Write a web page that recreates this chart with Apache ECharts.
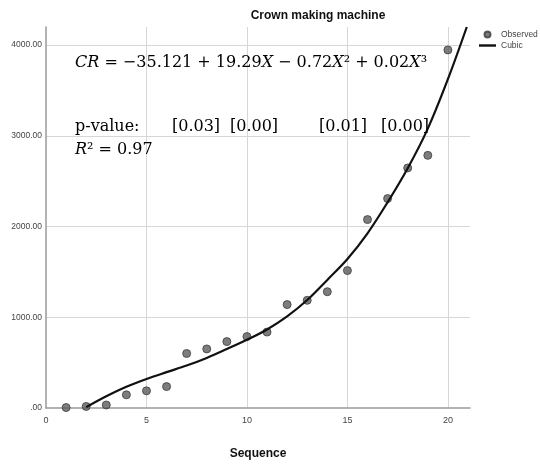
<!DOCTYPE html>
<html>
<head>
<meta charset="utf-8">
<script src="https://cdn.jsdelivr.net/npm/echarts@6/dist/echarts.min.js"></script>
<style>html,body{margin:0;padding:0;background:#fff;}#c{width:540px;height:465px;}</style>
</head>
<body>
<div id="c"></div>
<script>
// Observed points (Sequence, value)
const obsX = [1,2,3,4,5,6,7,8,9,10,11,12,13,14,15,16,17,18,19,20];
const obsY = [5,17,33,145,189,236,601,651,732,787,837,1140,1187,1282,1515,2077,2309,2646,2785,3947];
// Cubic fit curve
const curveX = [2,3,4,5,6,7,8,9,10,11,12,13,14,15,16,17,18,19,20,20.94];
const curveY = [10,130,235,320,395,468,552,650,752,866,1010,1190,1412,1642,1926,2268,2643,3080,3625,4200];
const xTicks = [0,5,10,15,20];
const yTicks = [0,1000,2000,3000,4000];

const titleText = 'Crown making machine';
const xName = 'Sequence';
const eqLine = '{i|CR} = −35.121 + 19.29{i|X} − 0.72{i|X}² + 0.02{i|X}³';
const pLabel = 'p-value:';
const pValues = ['[0.03]','[0.00]','[0.01]','[0.00]'];
const r2Line = '{i|R}² = 0.97';

const chart = echarts.init(document.getElementById('c'), null, {renderer:'canvas'});
const serif = 'DejaVu Serif';
const rich = {i:{fontStyle:'italic', fontSize:16, fontFamily:serif, fill:'#000'}};
const pPos = [172, 230, 319, 381];
const txt = (text, x, y) => ({type:'text', left:x, top:y-8, z:100,
  style:{text:text, fontSize:16, fontFamily:serif, fill:'#000', rich:rich}});

chart.setOption({
  backgroundColor:'#fff',
  animation:false,
  title:{text:titleText, left:313, top:5, textAlign:'center',
    textStyle:{fontSize:12, fontWeight:'bold', fontFamily:'Liberation Sans', color:'#111'}},
  legend:{orient:'vertical', left:479, top:30, itemWidth:17, itemHeight:6, itemGap:2, padding:0,
    textStyle:{fontSize:8.5, fontFamily:'Liberation Sans Narrow, Liberation Sans', color:'#444', lineHeight:7},
    data:[{name:'Observed', icon:'circle'},
          {name:'Cubic', icon:'path://M0,0 L17,0 L17,2.4 L0,2.4 Z'}]},
  grid:{left:46, right:70, top:27, bottom:52.7, containLabel:false},
  xAxis:{type:'value', min:0, max:21.1, interval:5,
    name:xName, nameLocation:'middle', nameGap:40,
    nameTextStyle:{fontSize:12, fontWeight:'bold', fontFamily:'Liberation Sans', color:'#111'},
    axisLine:{show:true, onZero:false, lineStyle:{color:'#9a9a9a', width:1.5}},
    axisTick:{show:false},
    axisLabel:{fontSize:9, color:'#444', margin:8, fontFamily:'Liberation Sans Narrow, Liberation Sans', showMaxLabel:false,
      formatter:v => xTicks.indexOf(v) >= 0 ? String(v) : ''},
    splitLine:{show:true, showMinLine:false, showMaxLine:false, lineStyle:{color:'#d6d6d6', width:1}}},
  yAxis:{type:'value', min:0, max:4200, interval:1000,
    axisLine:{show:true, onZero:false, lineStyle:{color:'#9a9a9a', width:1.5}},
    axisTick:{show:false},
    axisLabel:{fontSize:8.5, color:'#444', margin:4, fontFamily:'Liberation Sans Narrow, Liberation Sans', showMaxLabel:false,
      formatter:v => yTicks.indexOf(v) >= 0 ? (v === 0 ? '.00' : v.toFixed(2)) : ''},
    splitLine:{show:true, showMinLine:false, showMaxLine:false, lineStyle:{color:'#d6d6d6', width:1}}},
  series:[
    {name:'Observed', type:'scatter', symbol:'circle', symbolSize:8,
      itemStyle:{color:'#5c5c5c', borderColor:'#3c3c3c', borderWidth:1},
      data:obsX.map((x,i)=>[x, obsY[i]]), z:2},
    {name:'Cubic', type:'line', smooth:0.35, symbol:'none', showSymbol:false,
      lineStyle:{color:'#111', width:2.2}, itemStyle:{color:'#111'},
      data:curveX.map((x,i)=>[x, curveY[i]]), z:3}
  ],
  graphic:[
    txt(eqLine, 75, 63),
    txt(pLabel, 75, 127),
    ...pValues.map((p,i)=>txt(p, pPos[i], 127)),
    txt(r2Line, 75, 150)
  ]
});
</script>
</body>
</html>
